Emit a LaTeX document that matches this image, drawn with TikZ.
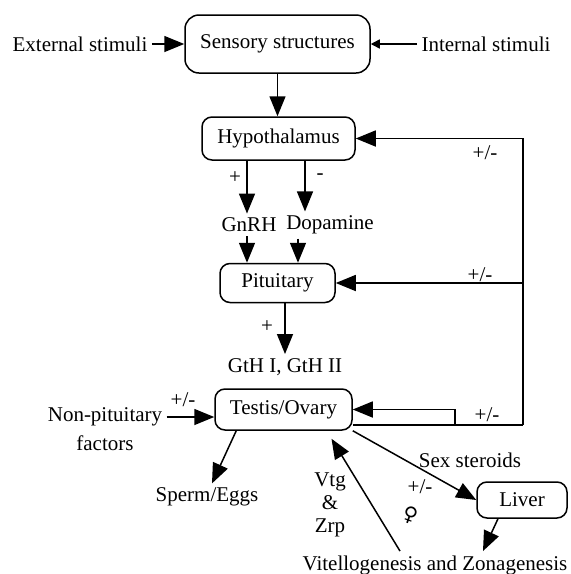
\documentclass[tikz,border=0pt]{standalone}
\usepackage{fontspec}
\setmainfont{Liberation Serif}
\newfontfamily\symfont{DejaVu Sans}
\usetikzlibrary{arrows.meta,calc}
\begin{document}
\begin{tikzpicture}[x=0.5pt,y=-0.5pt,
  every node/.style={font=\fontsize{10.5}{11.5}\selectfont},
  box/.style={draw,line width=0.75pt,rounded corners=5pt,inner sep=0pt,align=center},
  lbl/.style={inner sep=2pt},
  arr/.style={line width=0.75pt,-{Triangle[length=10pt,width=8pt]}},
  ln/.style={line width=0.75pt},
  sarr/.style={line width=0.75pt,-{Triangle[length=4.5pt,width=4.5pt]}}]
\useasboundingbox (0,0) rectangle (571,574);
% boxes
\node[box,minimum width=92.5pt,minimum height=29pt,rounded corners=7pt] (sens) at (277.5,44) {Sensory structures};
\node[box,minimum width=76.5pt,minimum height=21.5pt] (hyp) at (278.5,138.5) {Hypothalamus};
\node[box,minimum width=57.5pt,minimum height=19.5pt] (pit) at (277.5,283) {Pituitary};
\node[box,minimum width=68.5pt,minimum height=20.5pt] (test) at (283.5,409.5) {Testis/Ovary};
\node[box,minimum width=45pt,minimum height=18pt] (liver) at (522,500) {Liver};
% texts
\node[lbl] (ext) at (80,44) {External stimuli};
\node[lbl] (int) at (486,44) {Internal stimuli};
\node[lbl] (gnrh) at (249,225) {GnRH};
\node[lbl] (dopa) at (330,225) {Dopamine};
\node[lbl] (gth) at (285,367) {GtH I, GtH II};
\node[lbl] (np1) at (105,417) {Non-pituitary};
\node[lbl] (np2) at (105,443) {factors};
\node[lbl] (sperm) at (207,497) {Sperm/Eggs};
\node[lbl] (sex) at (470,460) {Sex steroids};
\node[lbl,align=center] (vtg) at (330,505) {Vtg\\\&\\Zrp};
\node[lbl] (vit) at (435,565) {Vitellogenesis and Zonagenesis};
% signs
\node[lbl] (pm1) at (485,153) {+/-};
\node[lbl] (pm2) at (480,275) {+/-};
\node[lbl] (pm3) at (487,415) {+/-};
\node[lbl] (pm4) at (183,400) {+/-};
\node[lbl] (pm5) at (420,487) {+/-};
\node[lbl] (plus1) at (235,178) {+};
\node[lbl] (minus1) at (320,177) {-};
\node[lbl] (plus2) at (267,327) {+};
\node[lbl,font=\symfont\fontsize{10}{12}\selectfont,rotate=-20] (fem) at (410,515) {♀};
% helper coordinates
\coordinate (c1) at (247,0);
\coordinate (c2) at (305,0);
\coordinate (c3) at (298,0);
\coordinate (fb) at (523,425);
\coordinate (stp) at (455,425);
% connectors
\draw[arr] (ext.east) -- (sens.west);
\draw[sarr] (int.west) -- (sens.east);
\draw[arr] (sens.south) -- (sens.south |- hyp.north);
\draw[arr] (c1 |- hyp.south) -- (c1 |- gnrh.north);
\draw[arr] (c2 |- hyp.south) -- (c2 |- dopa.north);
\draw[arr] (c1 |- gnrh.south) -- (c1 |- pit.north);
\draw[arr] (c3 |- dopa.south) -- (c3 |- pit.north);
\draw[arr] (gth.north |- pit.south) -- (gth.north);
\draw[ln] (test.east |- fb) -- (fb);
\draw[arr] (fb) -- (fb |- hyp.east) -- (hyp.east);
\draw[arr] (fb |- pit.east) -- (pit.east);
\draw[arr] (stp) -- (stp |- test.east) -- (test.east);
\draw[arr] (np1.east) -- (test.west |- np1.east);
\draw[arr] ([xshift=11pt]test.south west) -- ([xshift=2.5pt]sperm.north);
\draw[arr] (test.south east) -- (liver.west);
\draw[arr] ([xshift=-17.5pt]vit.north) -- ([xshift=24pt,yshift=-4pt]test.south);
\draw[arr] ([xshift=-12pt]liver.south) -- ([xshift=24pt]vit.north);
\end{tikzpicture}
\end{document}
